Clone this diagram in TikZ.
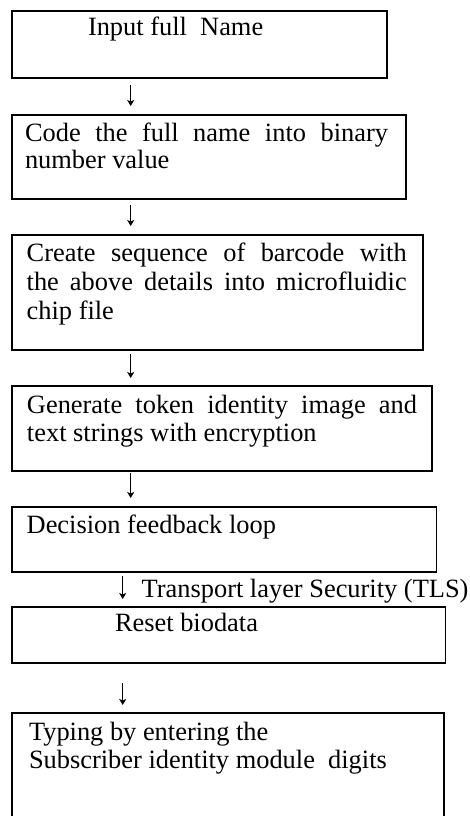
\documentclass[tikz,border=0pt]{standalone}
\usepackage{fontspec}
\setmainfont{Liberation Serif}
\usetikzlibrary{arrows.meta}
\begin{document}
\begin{tikzpicture}[x=1pt,y=-1pt,
  box/.style={draw, line width=1.9pt, rectangle, inner sep=0pt, outer sep=0pt, anchor=north west},
  txt/.style={anchor=base west, inner sep=0pt, outer sep=0pt, font=\fontsize{26.4}{28}\selectfont},
  arr/.style={line width=0.9pt, -{Stealth[length=6pt,width=7pt,inset=1.5pt]}}]
\useasboundingbox[fill=white] (0,0) rectangle (470,816);
% boxes
\node[box, minimum width=374.7pt, minimum height=67.6pt] (b1) at (12,10.7) {};
\node[box, minimum width=393.7pt, minimum height=84.3pt] (b2) at (12,115) {};
\node[box, minimum width=411.3pt, minimum height=115pt] (b3) at (12,235) {};
\node[box, minimum width=420.3pt, minimum height=85pt] (b4) at (12,385.7) {};
\node[box, minimum width=424.5pt, minimum height=64.4pt] (b5) at (12,507.3) {};
\node[box, minimum width=433.5pt, minimum height=56pt] (b6) at (12,606.7) {};
\node[box, minimum width=432.3pt, minimum height=120pt] (b7) at (12,713.3) {};
% texts
\node[txt] (t1) at (88,36) {Input full~ Name};
\node[txt, font=\fontsize{26.4}{26.5}\selectfont] (t2) at (25,141.7)
  {\vtop{\hbox{\makebox[363pt][s]{Code the full name into binary}}\hbox{number value}}};
\node[txt, font=\fontsize{26.4}{29}\selectfont] (t3) at (26.7,261.7)
  {\vtop{\hbox{\makebox[380pt][s]{Create sequence of barcode with}}\hbox{\makebox[380pt][s]{the above details into microfluidic}}\hbox{chip file}}};
\node[txt, font=\fontsize{26.4}{28}\selectfont] (t4) at (27,413.5)
  {\vtop{\hbox{\makebox[390pt][s]{Generate token identity image and}}\hbox{text strings with encryption}}};
\node[txt] (t5) at (26.7,533.3) {Decision feedback loop};
\node[txt] (tls) at (141.7,597) {Transport layer Security (TLS)};
\node[txt] (t6) at (115,631.7) {Reset biodata};
\node[txt, font=\fontsize{26.4}{28}\selectfont] (t7) at (29,740)
  {\vtop{\hbox{Typing by entering the}\hbox{Subscriber identity module~ digits}}};
% arrow columns
\coordinate (ax) at (130.7,0);
\coordinate (bx) at (122.7,0);
\draw[arr, shorten <=6.7pt, shorten >=9pt] (b1.south -| ax) -- (b2.north -| ax);
\draw[arr, shorten <=5.7pt, shorten >=9pt] (b2.south -| ax) -- (b3.north -| ax);
\draw[arr, shorten <=4pt, shorten >=7.7pt] (b3.south -| ax) -- (b4.north -| ax);
\draw[arr, shorten <=2.3pt, shorten >=9.3pt] (b4.south -| ax) -- (b5.north -| ax);
\draw[arr, shorten <=4.3pt, shorten >=7.7pt] (b5.south -| bx) -- (b6.north -| bx);
\draw[arr, shorten <=20.3pt, shorten >=8.3pt] (b6.south -| bx) -- (b7.north -| bx);
\end{tikzpicture}
\end{document}
